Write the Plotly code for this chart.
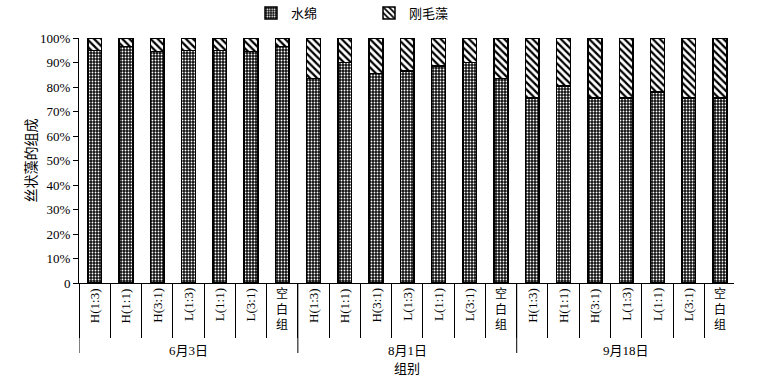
import plotly.graph_objects as go

# ---------------- data ----------------
dates = ["6月3日", "8月1日", "9月18日"]
treatments = ["H(1:3)", "H(1:1)", "H(3:1)", "L(1:3)", "L(1:1)", "L(3:1)", "空白组"]

spirogyra_jun3 = [95, 96.5, 94.5, 95, 95, 94.5, 96.5]
spirogyra_aug1 = [83.5, 90, 85.5, 86.5, 88.5, 90, 83.5]
spirogyra_sep18 = [75.5, 80.5, 75.5, 75.5, 78, 75.5, 75.5]

cladophora_jun3 = [5, 3.5, 5.5, 5, 5, 5.5, 3.5]
cladophora_aug1 = [16.5, 10, 14.5, 13.5, 11.5, 10, 16.5]
cladophora_sep18 = [24.5, 19.5, 24.5, 24.5, 22, 24.5, 24.5]

y_tickvals = [0, 10, 20, 30, 40, 50, 60, 70, 80, 90, 100]
y_ticktext = ["0", "10%", "20%", "30%", "40%", "50%", "60%", "70%", "80%", "90%", "100%"]

series_names = ["水绵", "刚毛藻"]
y_title = "丝状藻的组成"
x_title = "组别"

# ---------------- build ----------------
categories = [f"{d}|{t}" for d in dates for t in treatments]
spirogyra = spirogyra_jun3 + spirogyra_aug1 + spirogyra_sep18
cladophora = cladophora_jun3 + cladophora_aug1 + cladophora_sep18

FONT = "Liberation Serif, Times New Roman, Noto Sans CJK SC, serif"
M_L, M_T, M_R, M_B = 79, 38, 23, 102
PLOT_H = 385 - M_T - M_B
PLOT_W = 757 - M_L - M_R

fig = go.Figure()
fig.add_trace(go.Bar(
    x=categories, y=spirogyra, name=series_names[0], width=0.44,
    marker=dict(
        color="#111111",
        line=dict(color="black", width=1.5),
        pattern=dict(shape=".", fgcolor="white", bgcolor="#111111",
                     size=3, solidity=0.3, fillmode="replace"),
    ),
))
fig.add_trace(go.Bar(
    x=categories, y=cladophora, name=series_names[1], width=0.44,
    marker=dict(
        color="black",
        line=dict(color="black", width=1.5),
        pattern=dict(shape="\\", fgcolor="black", bgcolor="white",
                     size=5, solidity=0.45, fillmode="replace"),
    ),
))

annotations = []
# category labels under the axis
for cat in categories:
    label = cat.split("|")[1]
    if label == "空白组":
        annotations.append(dict(
            x=cat, xref="x", y=-2 / PLOT_H, yref="paper", yanchor="top",
            text="<br>".join(label), showarrow=False,
            font=dict(family=FONT, size=12, color="black"),
        ))
    else:
        annotations.append(dict(
            x=cat, xref="x", y=-3 / PLOT_H, yref="paper", yanchor="top",
            text=label, textangle=-90, showarrow=False,
            font=dict(family=FONT, size=13, color="black"),
        ))

# group labels
n = len(treatments)
for gi, d in enumerate(dates):
    mid_cat = categories[gi * n + n // 2]
    annotations.append(dict(
        x=mid_cat, xref="x", y=-(350 - 283) / PLOT_H, yref="paper", yanchor="middle",
        text=d, showarrow=False,
        font=dict(family=FONT, size=13, color="black"),
    ))
annotations.append(dict(
    x=0.5, xref="paper", y=-(368 - 283) / PLOT_H, yref="paper", yanchor="middle",
    text=x_title, showarrow=False,
    font=dict(family=FONT, size=13, color="black"),
))

# group separators
shapes = []
for gi in range(len(dates)):
    xb = gi * n - 0.5
    shapes.append(dict(type="line", xref="x", yref="paper",
                       x0=xb, x1=xb, y0=0, y1=-(353 - 283) / PLOT_H,
                       line=dict(color="black", width=1)))

fig.update_layout(
    width=757, height=385,
    margin=dict(l=M_L, r=M_R, t=M_T, b=M_B, autoexpand=False),
    paper_bgcolor="white", plot_bgcolor="white",
    barmode="stack",
    font=dict(family=FONT, size=13, color="black"),
    showlegend=True,
    legend=dict(
        orientation="h", x=(251 - M_L) / PLOT_W, xanchor="left",
        y=1 + (M_T - 13) / PLOT_H, yanchor="middle",
        entrywidth=73, entrywidthmode="pixels",
        font=dict(family=FONT, size=13, color="black"),
        bgcolor="rgba(0,0,0,0)", traceorder="normal",
    ),
    annotations=annotations,
    shapes=shapes,
)
fig.update_xaxes(
    type="category", categoryorder="array", categoryarray=categories,
    range=[-0.5, 20.45],
    showline=True, linecolor="black", linewidth=1,
    showgrid=False, zeroline=False,
    ticks="outside", tickson="boundaries", ticklen=54, tickcolor="black",
    tickwidth=1, tickmode="linear", tick0=0, dtick=1,
    showticklabels=False,
)
fig.update_yaxes(
    range=[0, 100], tickmode="array", tickvals=y_tickvals, ticktext=y_ticktext,
    showline=True, linecolor="black", linewidth=1,
    showgrid=False, zeroline=False,
    ticks="outside", ticklen=5, tickcolor="black",
    tickfont=dict(family=FONT, size=13, color="black"),
    title=dict(text=y_title, standoff=0,
               font=dict(family=FONT, size=14, color="black")),
)

# remove the default 8px page margin so the figure fills the window exactly
fig.write_html("out.html", config={"displayModeBar": False},
               post_script="document.body.style.margin='0px';")
